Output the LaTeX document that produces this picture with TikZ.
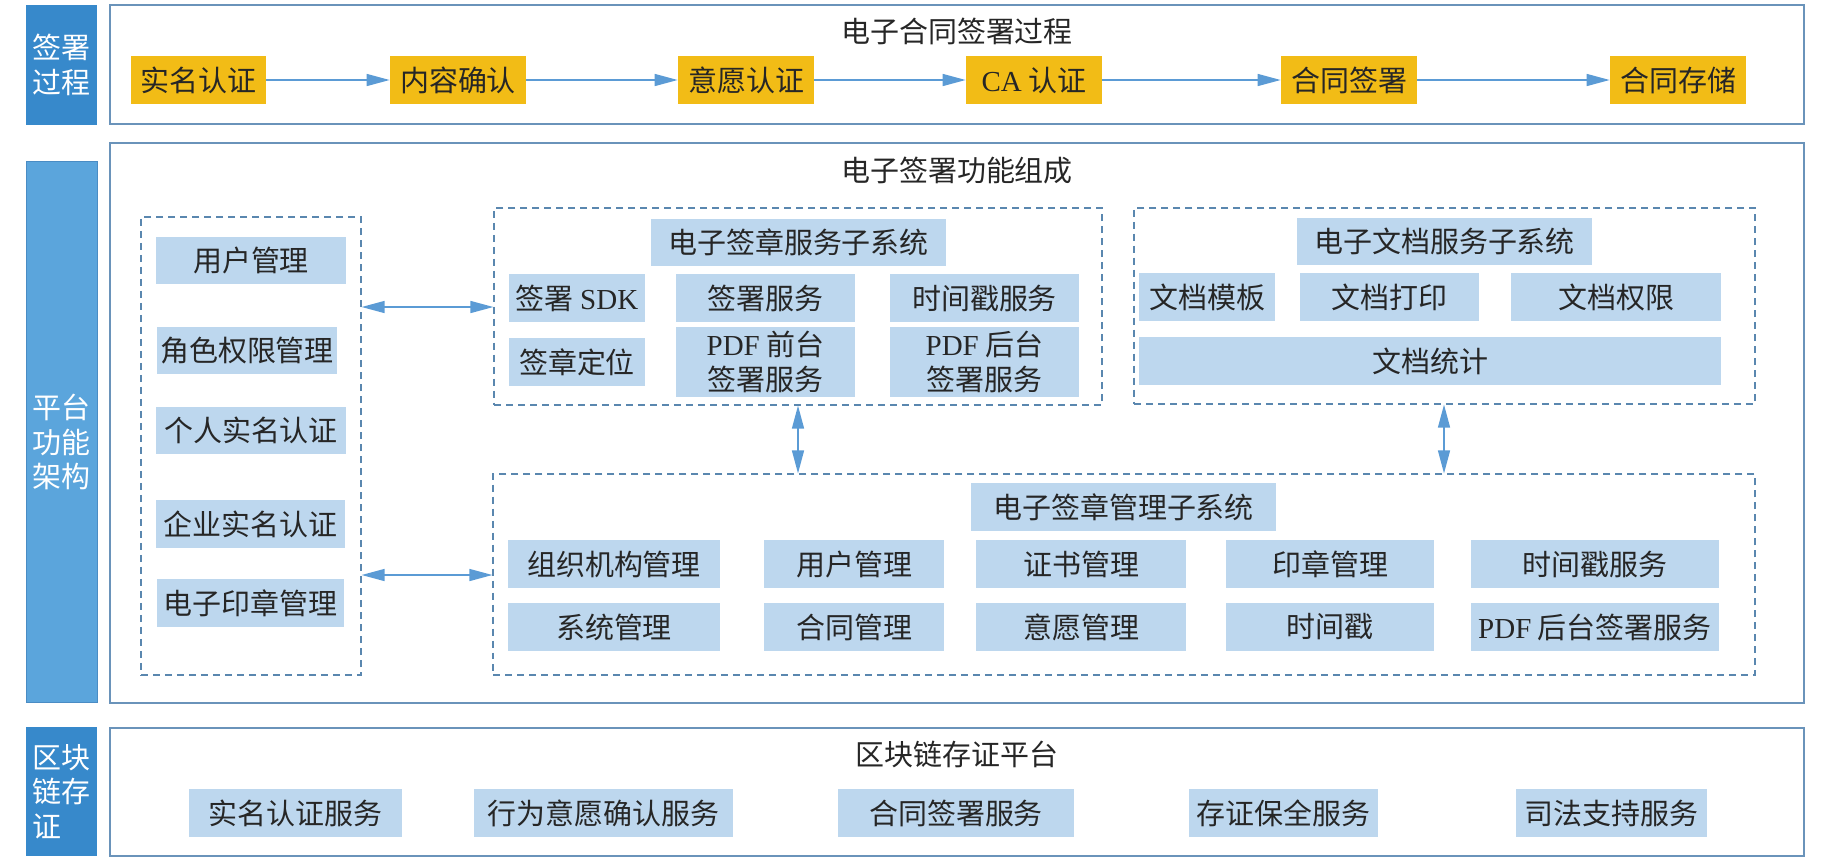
\documentclass[tikz,border=0pt]{standalone}
\usepackage{fontspec}
\setmainfont{Noto Sans CJK SC}
\newfontfamily\lat{Liberation Serif}
\usetikzlibrary{arrows.meta}
\definecolor{bardark}{RGB}{55,137,203}
\definecolor{barlight}{RGB}{91,165,220}
\definecolor{barline}{RGB}{74,140,196}
\definecolor{frame}{RGB}{106,147,186}
\definecolor{dashc}{RGB}{90,135,175}
\definecolor{lblue}{RGB}{189,215,238}
\definecolor{gold}{RGB}{242,188,22}
\definecolor{arrc}{RGB}{91,155,213}
\newcommand{\fs}{\fontsize{16.5}{19.5}\selectfont}
\tikzset{
    spot/.style n args={4}{at={({(#1+#3)/2},{(#2+#4)/2})},
        minimum width={(#3-#1)*0.02cm}, minimum height={(#4-#2)*0.02cm}},
    box/.style={fill=lblue, inner sep=0pt, align=center, font=\fs, text=black!85},
    ybox/.style={fill=gold, inner sep=0pt, font=\fs, text=black!85},
    outer/.style={draw=frame, line width=0.7pt, inner sep=0pt},
    dbox/.style={draw=dashc, line width=0.7pt, dash pattern=on 0.14cm off 0.1cm, inner sep=0pt},
    bar/.style={fill=bardark, inner sep=0pt, align=center, font=\fs, text=white},
    ttl/.style={font=\fs, text=black!85},
    arr/.style={draw=arrc, line width=0.8pt, -{Triangle[length=0.46cm, width=0.24cm]}},
    arrtwo/.style={draw=arrc, line width=0.8pt, {Triangle[length=0.46cm, width=0.24cm]}-{Triangle[length=0.46cm, width=0.24cm]}}
}
\begin{document}
\begin{tikzpicture}[x=0.02cm, y=-0.02cm]
        \useasboundingbox (0,0) rectangle (1831,863);
        \node[outer, spot={110}{5}{1804}{124}] (pro) {};
        \node[outer, spot={110}{143}{1804}{703}] (fun) {};
        \node[outer, spot={110}{728}{1804}{856}] (chn) {};
        \node[bar, spot={26}{5}{97}{125}] (b1) {签署\\过程};
        \node[bar, fill=barlight, draw=barline, spot={26}{161}{97}{702}] (b2) {\rule{0pt}{0.91cm}平台\\功能\\架构};
        \node[bar, align=left, spot={26}{727}{97}{856}] (b3) {区块\\链存\\证};
        \node[ttl] (t1) at (957,31) {电子合同签署过程};
        \node[ttl] (t2) at (957,171) {电子签署功能组成};
        \node[ttl] (t3) at (957,754) {区块链存证平台};

        \foreach \i/\xa/\xb/\t in {1/131/266/实名认证, 2/390/526/内容确认, 3/678/814/意愿认证,
                4/966/1102/{{\lat CA} 认证}, 5/1281/1417/合同签署, 6/1610/1746/合同存储}
            \node[ybox, spot={\xa}{56}{\xb}{104}] (y\i) {\t};
        \foreach \i [evaluate=\i as \j using int(\i+1)] in {1,...,5}
            \draw[arr] (y\i) -- (y\j);

        \node[dbox, spot={141}{217}{361}{675}] (lft) {};
        \node[dbox, spot={494}{208}{1102}{405}] (srv) {};
        \node[dbox, spot={1134}{208}{1755}{404}] (doc) {};
        \node[dbox, spot={493}{474}{1755}{675}] (mgt) {};

        \node[box, spot={156}{237}{346}{284}] (l1) {用户管理};
        \node[box, spot={157}{327}{337}{374}] (l2) {角色权限管理};
        \node[box, spot={156}{407}{346}{454}] (l3) {个人实名认证};
        \node[box, spot={156}{500}{345}{548}] (l4) {企业实名认证};
        \node[box, spot={157}{579}{344}{627}] (l5) {电子印章管理};

        \node[box, spot={651}{219}{946}{266}] (s0) {电子签章服务子系统};
        \node[box, spot={509}{274}{645}{322}] (s1) {签署 {\lat SDK}};
        \node[box, spot={676}{274}{855}{322}] (s2) {签署服务};
        \node[box, spot={890}{274}{1079}{322}] (s3) {时间戳服务};
        \node[box, spot={509}{338}{645}{386}] (s4) {签章定位};
        \node[box, spot={676}{327}{855}{397}] (s5) {{\lat PDF} 前台\\签署服务};
        \node[box, spot={890}{327}{1079}{397}] (s6) {{\lat PDF} 后台\\签署服务};

        \node[box, spot={1297}{218}{1592}{265}] (d0) {电子文档服务子系统};
        \node[box, spot={1139}{273}{1275}{321}] (d1) {文档模板};
        \node[box, spot={1300}{273}{1479}{321}] (d2) {文档打印};
        \node[box, spot={1511}{273}{1721}{321}] (d3) {文档权限};
        \node[box, spot={1139}{337}{1721}{385}] (d4) {文档统计};

        \node[box, spot={971}{483}{1276}{531}] (m0) {电子签章管理子系统};
        \foreach \i/\xa/\xb/\ta/\tb in {1/508/720/组织机构管理/系统管理, 2/764/944/用户管理/合同管理,
                3/976/1186/证书管理/意愿管理, 4/1226/1434/印章管理/时间戳,
                5/1471/1719/时间戳服务/{{\lat PDF} 后台签署服务}} {
            \node[box, spot={\xa}{540}{\xb}{588}] (ma\i) {\ta};
            \node[box, spot={\xa}{603}{\xb}{651}] (mb\i) {\tb};
        }

        \foreach \i/\xa/\xb/\t in {1/189/402/实名认证服务, 2/474/733/行为意愿确认服务,
                3/838/1074/合同签署服务, 4/1189/1378/存证保全服务, 5/1516/1707/司法支持服务}
            \node[box, spot={\xa}{789}{\xb}{837}] (c\i) {\t};

        \coordinate (ya) at (0,307);
        \coordinate (yb) at (0,575);
        \coordinate (xa) at (798,0);
        \coordinate (xb) at (1444,0);
        \draw[arrtwo] (lft.east |- ya) -- (srv.west |- ya);
        \draw[arrtwo] (lft.east |- yb) -- (mgt.west |- yb);
        \draw[arrtwo] (srv.south -| xa) -- (mgt.north -| xa);
        \draw[arrtwo] (doc.south -| xb) -- (mgt.north -| xb);

    \end{tikzpicture}
\end{document}
